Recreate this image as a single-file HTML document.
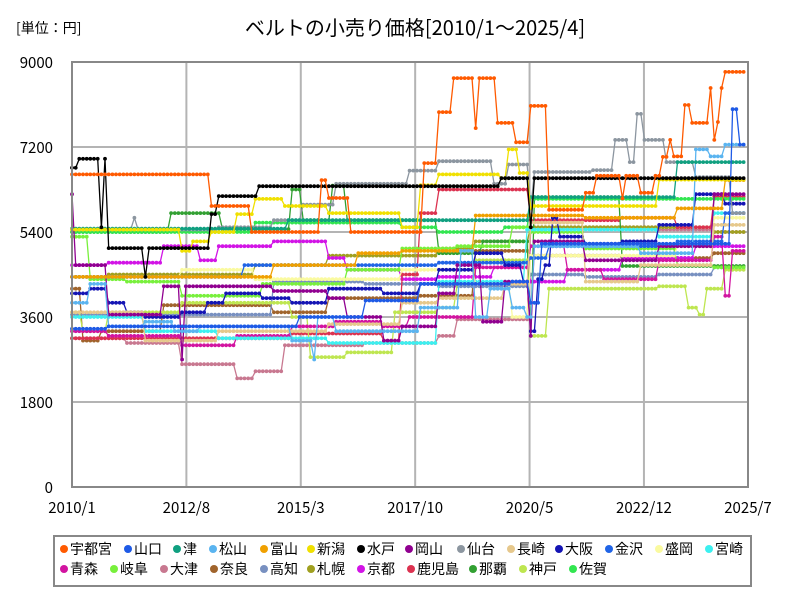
<!DOCTYPE html>
<html><head><meta charset="utf-8"><style>
body{margin:0;background:#fff;font-family:"Liberation Sans","Noto Sans CJK JP",sans-serif;}
#wrap{position:relative;width:800px;height:600px;overflow:hidden;}
</style></head><body>
<div id="wrap">
<svg id="svg" width="800" height="600" xmlns="http://www.w3.org/2000/svg" style="position:absolute;left:0;top:0" font-family="Liberation Sans, Noto Sans CJK JP, sans-serif">
<text x="16" y="33" font-size="14" font-family="Noto Sans CJK JP, sans-serif">[単位：円]</text>
<text x="415" y="35" font-size="20" text-anchor="middle" font-family="Noto Sans CJK JP, sans-serif">ベルトの小売り価格[2010/1～2025/4]</text>
<g id="grid"></g><g id="series"></g>
<rect x="72" y="62" width="676" height="425" fill="none" stroke="#888" stroke-width="2"/>
<g id="axes"></g>
<rect x="54" y="536" width="697" height="50" fill="#fff" stroke="#888" stroke-width="2"/>
<g id="legend"></g>
</svg></div>
<script>
const yTicks=[0,1800,3600,5400,7200,9000];
const xTickLabels=["2010/1","2012/8","2015/3","2017/10","2020/5","2022/12","2025/7"];
const xTickMonths=[0,31,62,93,124,155,186];
const nMonths=184;
const names=["宇都宮","山口","津","松山","富山","新潟","水戸","岡山","仙台","長崎","大阪","金沢","盛岡","宮崎","青森","岐阜","大津","奈良","高知","札幌","京都","鹿児島","那覇","神戸","佐賀"];
const colors=["#ff5a00","#1e5ae6","#10a080","#5ab4f0","#f0a000","#f0e000","#000000","#900090","#8c96a0","#e6c88c","#1414b4","#2064e6","#fafaa0","#3cf0f0","#d214a0","#78f03c","#c87890","#a0642c","#7890c0","#a0a020","#d214e6","#dc3250","#32a032","#bee650","#32e650"];
const sUtsunomiya=[[0,6620],[38,5950],[49,5400],[68,6500],[70,6120],[76,5400],[96,6860],[100,7940],[104,8660],[110,7600],[111,8660],[116,7710],[121,7300],[125,8070],[130,5870],[140,6230],[143,6590],[150,6110],[151,6590],[155,6230],[159,6590],[161,6990],[163,7350],[164,7000],[167,8090],[169,7710],[174,8450],[175,7350],[176,7730],[177,8450],[178,8790]];
const sYamaguchi=[[0,3350],[10,3400],[30,3400],[62,3600],[80,3950],[95,4300],[120,4350],[125,3900],[128,5150],[160,5150],[180,8000],[182,7250]];
const sTsu=[[0,5470],[59,5650],[125,6140],[165,6880]];
const sMatsuyama=[[0,3900],[5,4300],[10,3400],[20,3500],[28,3300],[35,3400],[60,3100],[66,2700],[67,3600],[72,3300],[95,3800],[106,5000],[110,3600],[114,4200],[120,3800],[124,3600],[126,5100],[145,5100],[155,4950],[170,7150],[174,7000],[178,7250]];
const sToyama=[[0,4450],[55,4700],[78,4950],[90,5000],[110,5750],[140,5700],[165,5900],[178,6500]];
const sNiigata=[[0,5450],[30,5000],[33,5200],[38,5400],[45,5780],[50,6100],[58,5950],[70,5800],[90,5500],[95,6390],[100,6620],[117,6540],[119,7150],[122,6650],[125,5900],[126,5950],[160,6510]];
const sMito=[[0,6760],[2,6950],[8,5500],[9,6950],[10,5060],[20,4450],[21,5060],[38,5780],[40,6160],[51,6370],[117,6540],[125,5500],[126,6540]];
const sOkayama=[[0,6200],[1,4700],[10,3650],[25,4250],[30,2700],[31,4250],[55,4150],[70,4000],[75,3600],[85,3100],[90,3400],[100,4100],[105,4700],[112,3500],[118,4350],[125,3200],[126,5200],[140,4800],[160,5100],[175,6200]];
const sSendai=[[0,5450],[17,5700],[18,5450],[40,5500],[55,5650],[63,5980],[72,6420],[92,6700],[100,6900],[115,6420],[119,6830],[125,5900],[126,6670],[142,6710],[148,7350],[152,6880],[154,7900],[156,7350],[162,6880],[170,6560],[180,5800]];
const sNagasaki=[[0,3700],[20,3100],[40,3300],[70,3450],[90,3900],[100,4000],[118,4300],[125,5600],[140,4350],[155,4700],[175,5550]];
const sOsaka=[[0,4100],[5,4200],[10,3900],[15,3700],[20,3600],[30,3700],[37,3900],[42,4100],[52,4000],[60,3900],[70,4200],[85,4100],[95,4300],[100,4600],[110,4950],[118,4700],[123,4350],[125,3300],[127,4400],[129,4700],[131,5700],[133,5300],[140,5150],[150,5200],[160,5550],[170,6200],[178,6000]];
const sKanazawa=[[0,4450],[47,4700],[100,4750],[125,4850],[130,5100],[165,5200],[178,5800]];
const sMorioka=[[0,4450],[30,4600],[50,4400],[90,4600],[110,4300],[120,3600],[125,4900],[165,5100],[175,5700]];
const sMiyazaki=[[0,3600],[20,3300],[40,3150],[70,3050],[100,4350],[124,5450],[160,5300],[175,5800]];
const sAomori=[[0,3300],[10,3200],[30,3000],[45,3200],[60,3400],[72,3500],[85,3400],[92,3600],[110,4650],[125,5100],[135,4600],[145,4400],[160,4800],[175,5300],[178,4050],[180,5000]];
const sGifu=[[0,5300],[5,4400],[15,4350],[30,4050],[52,4300],[75,4600],[90,5050],[105,5100],[120,5500],[125,5400],[140,5050],[165,4700],[175,4650]];
const sOtsu=[[0,3150],[15,3050],[30,2600],[45,2300],[50,2450],[58,3000],[80,3050],[100,3200],[105,3550],[125,5500],[160,5450],[175,5400]];
const sNara=[[0,4200],[3,3100],[8,3300],[25,3850],[55,3700],[70,4000],[95,4050],[110,5000],[125,4900],[150,4850],[175,4950]];
const sKochi=[[0,3650],[55,4350],[80,4300],[100,4250],[125,4500],[140,4450],[160,4500],[175,4650]];
const sSapporo=[[0,4450],[10,4500],[50,4700],[70,4900],[100,5050],[110,5200],[125,5500],[175,5400]];
const sKyoto=[[0,4700],[10,4750],[25,5100],[35,4800],[40,5100],[55,5200],[70,4850],[75,4600],[90,4400],[100,4450],[115,4650],[125,4350],[135,4600],[150,4850],[170,5100]];
const sKagoshima=[[0,3150],[60,3250],[85,3100],[90,4500],[95,5800],[100,6300],[125,5650],[150,5700],[165,5500],[175,6150]];
const sNaha=[[0,5400],[27,5800],[41,5460],[60,6300],[63,5650],[71,6380],[75,5650],[100,4950],[112,5200],[125,3200],[126,6140],[150,4680]];
const sKobe=[[0,3700],[3,3300],[10,3700],[30,3900],[60,3600],[65,2750],[75,2850],[88,3700],[100,3800],[105,4300],[110,4800],[125,3200],[130,4200],[160,4250],[168,3800],[171,3650],[173,4200],[178,4600]];
const sSaga=[[0,5400],[50,5600],[90,5500],[100,5400],[118,5500],[125,6100]];
const seriesData=[sUtsunomiya,sYamaguchi,sTsu,sMatsuyama,sToyama,sNiigata,sMito,sOkayama,sSendai,sNagasaki,sOsaka,sKanazawa,sMorioka,sMiyazaki,sAomori,sGifu,sOtsu,sNara,sKochi,sSapporo,sKyoto,sKagoshima,sNaha,sKobe,sSaga];
const drawOrder=[16,17,18,19,20,21,22,23,24,15,14,13,12,11,10,9,8,7,4,3,2,1,5,6,0];

const NS="http://www.w3.org/2000/svg";
const X0=72,X1=748,Y0=487,Y1=62,pxPerMonth=3.67;
function xScale(m){return X0+m*pxPerMonth;}
function yScale(v){return Y0-(v/9000)*(Y0-Y1);}
function mk(tag,attrs,parent){const e=document.createElementNS(NS,tag);for(const k in attrs)e.setAttribute(k,attrs[k]);parent.appendChild(e);return e;}
const grid=document.getElementById('grid'),axes=document.getElementById('axes');
yTicks.forEach(t=>{
  if(t>0&&t<9000){const l=mk('line',{x1:X0,x2:X1,y1:yScale(t),y2:yScale(t),stroke:'#b4b4b4','stroke-width':2},grid);
  
  }
  const tx=mk('text',{x:53,y:yScale(t)+6,'font-size':15,'text-anchor':'end','font-family':'Noto Sans CJK JP, sans-serif'},axes);tx.textContent=t;
  
  
});
xTickMonths.forEach((m,i)=>{
  const x=Math.min(X0+m*3.69,X1);
  if(i>0&&i<xTickMonths.length-1){const l=mk('line',{x1:x,x2:x,y1:Y1,y2:Y0,stroke:'#b4b4b4','stroke-width':2},grid);
  
  }
  const tx=mk('text',{x:x,y:513,'font-size':15,'text-anchor':'middle','font-family':'Noto Sans CJK JP, sans-serif'},axes);tx.textContent=xTickLabels[i];
  
  
});
function expand(seg){const out=[];let j=0;for(let m=0;m<nMonths;m++){while(j+1<seg.length&&seg[j+1][0]<=m)j++;out.push(seg[j][1]);}return out;}
const sg=document.getElementById('series');
drawOrder.forEach(i=>{
  const vals=expand(seriesData[i]);
  const g=mk('g',{},sg);
  
  
  const pts=vals.map((v,m)=>xScale(m).toFixed(1)+','+yScale(v).toFixed(1)).join(' ');
  const pl=mk('polyline',{points:pts,fill:'none',stroke:colors[i],'stroke-width':1.3},g);
  
  
  vals.forEach((v,m)=>{const c=mk('circle',{cx:xScale(m).toFixed(1),cy:yScale(v).toFixed(1),r:1.9,fill:colors[i]},g);
    
    });
});
const lx1=[60,124,173,209,260,307,357,405,457,507,555,605,655,705];
const lx2=[60,110,160,210,260,307,357,407,469,519,569];
const lg=document.getElementById('legend');
names.forEach((n,i)=>{
  const row=i<14?0:1;const x=row?lx2[i-14]:lx1[i];const y=row?569:549;
  const g=mk('g',{},lg);
  
  
  mk('circle',{cx:x+4,cy:y,r:4,fill:colors[i]},g);
  const t=mk('text',{x:x+10,y:y+5,'font-size':14},g);t.textContent=n;
});
</script>
</body></html>
